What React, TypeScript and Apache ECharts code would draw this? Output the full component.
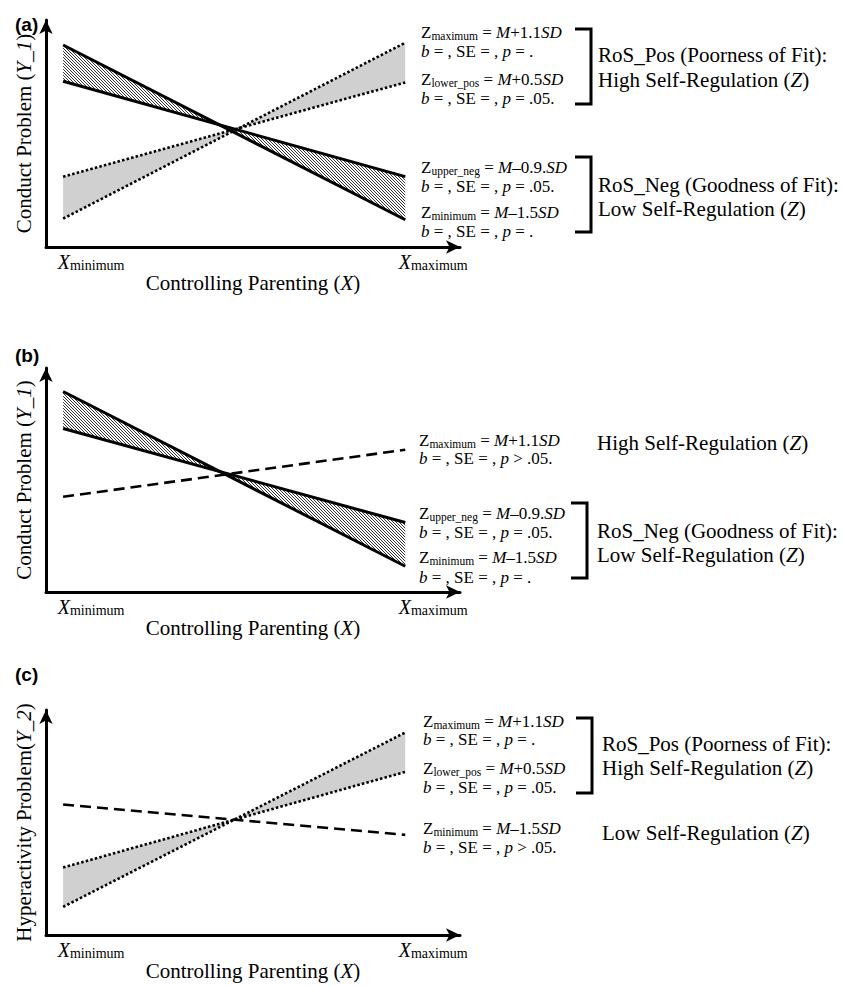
import React, { useEffect, useRef } from 'react';
import * as echarts from 'echarts';

// ---- data ----
const xEnds = [0, 1]; // X_minimum, X_maximum
const xTickSubs = ['minimum', 'maximum'];

// Panel (a): Conduct Problem
const aZMinimum = [8.9, 1.2];
const aZUpperNeg = [7.3, 3.1];
const aZMaximum = [1.25, 9.0];
const aZLowerPos = [3.1, 7.25];
// Panel (b): Conduct Problem
const bZMinimum = [8.95, 1.15];
const bZUpperNeg = [7.3, 3.1];
const bZMaximum = [4.25, 6.35];
// Panel (c): Hyperactivity Problem
const cZMaximum = [1.25, 9.0];
const cZLowerPos = [3.0, 7.25];
const cZMinimum = [5.8, 4.45];

const panelLabels = ['(a)', '(b)', '(c)'];
const yNames = ['Conduct Problem ({i|Y_1})', 'Conduct Problem ({i|Y_1})', 'Hyperactivity Problem({i|Y_2})'];
const xName = 'Controlling Parenting ({i|X})';

const SERIF = '"Liberation Serif", "Times New Roman", serif';

const hatchSvg =
  "<svg xmlns='http://www.w3.org/2000/svg' width='3' height='3'><path d='M-1 -1L4 4M-1 2L1 4M2 -1L4 1' stroke='#000' stroke-width='0.8'/></svg>";
const toUrl = (s: string) => 'data:image/svg+xml;charset=utf-8,' + encodeURIComponent(s);
const hatchFill: any = { image: toUrl(hatchSvg), repeat: 'repeat', imageWidth: 3, imageHeight: 3 };
const dotFill = '#d0d0d0';

const grids = [
  { left: 46, top: 20, width: 414, height: 227 },
  { left: 46, top: 368, width: 414, height: 224 },
  { left: 46, top: 710, width: 414, height: 225 },
];

const rich: any = {
  r: { fontSize: 17, fontFamily: SERIF, color: '#000', lineHeight: 19 },
  i: { fontSize: 17, fontFamily: SERIF, fontStyle: 'italic', color: '#000', lineHeight: 19 },
  sub: { fontSize: 11.5, fontFamily: SERIF, color: '#000', verticalAlign: 'bottom', lineHeight: 12 },
  big: { fontSize: 21, fontFamily: SERIF, color: '#000', lineHeight: 23 },
  bigi: { fontSize: 21, fontFamily: SERIF, fontStyle: 'italic', color: '#000', lineHeight: 23 },
};

function txt(x: number, y: number, text: string) {
  return {
    type: 'text',
    x,
    y,
    silent: true,
    style: { text, rich, fill: '#000', fontSize: 17, fontFamily: SERIF, verticalAlign: 'middle', align: 'left' },
  };
}
function bracket(x: number, y1: number, y2: number) {
  return {
    type: 'polyline',
    silent: true,
    shape: { points: [[x - 16, y1], [x, y1], [x, y2], [x - 16, y2]] },
    style: { stroke: '#000', lineWidth: 3, fill: 'none' },
  };
}
function panelLabel(y: number, t: string) {
  return {
    type: 'text',
    x: 15,
    y,
    silent: true,
    style: { text: t, fill: '#000', font: 'bold 19px "Liberation Sans", Arial, sans-serif', verticalAlign: 'middle' },
  };
}

const zMax = '{r|Z}{sub|maximum}{r| = }{i|M}{r|+1.1}{i|SD}';
const zLowerPos = '{r|Z}{sub|lower_pos}{r| = }{i|M}{r|+0.5}{i|SD}';
const zUpperNeg = '{r|Z}{sub|upper_neg}{r| = }{i|M}{r|–0.9.}{i|SD}';
const zMin = '{r|Z}{sub|minimum}{r| = }{i|M}{r|–1.5}{i|SD}';
const bDot = '{i|b}{r| = , SE = , }{i|p}{r| = .}';
const b05 = '{i|b}{r| = , SE = , }{i|p}{r| = .05.}';
const bGt = '{i|b}{r| = , SE = , }{i|p}{r| > .05.}';
const rosPos = '{big|RoS_Pos (Poorness of Fit):}';
const rosNeg = '{big|RoS_Neg (Goodness of Fit):}';
const highSR = '{big|High Self-Regulation (}{bigi|Z}{big|)}';
const lowSR = '{big|Low Self-Regulation (}{bigi|Z}{big|)}';

function lineSeries(gi: number, ys: number[], kind: string) {
  const st =
    kind === 'solid'
      ? { type: 'solid', width: 3 }
      : kind === 'dotted'
      ? { type: [2.5, 2.2], width: 2.6 }
      : { type: [11, 6], width: 2.6 };
  return {
    type: 'line',
    xAxisIndex: gi,
    yAxisIndex: gi,
    data: xEnds.map((x, i) => [x, ys[i]]),
    symbol: 'none',
    silent: true,
    z: 3,
    lineStyle: { color: '#000', cap: 'butt', ...st },
  };
}
function bandSeries(gi: number, up: number[], lo: number[], fill: any) {
  return {
    type: 'custom',
    xAxisIndex: gi,
    yAxisIndex: gi,
    silent: true,
    z: 2,
    data: xEnds.map((x, i) => [x, up[i], lo[i]]),
    renderItem: (params: any, api: any) => {
      if (params.dataIndex !== 0) return { type: 'group', children: [] };
      const pts = [
        api.coord([xEnds[0], up[0]]),
        api.coord([xEnds[1], up[1]]),
        api.coord([xEnds[1], lo[1]]),
        api.coord([xEnds[0], lo[0]]),
      ];
      return { type: 'polygon', shape: { points: pts }, style: { fill, stroke: null } };
    },
  };
}

export default function App() {
  const ref = useRef<HTMLDivElement>(null);
  useEffect(() => {
    document.body.style.margin = '0';
    const chart = echarts.init(ref.current!, null, { renderer: 'svg' });
    const xAxes = grids.map((_, gi) => ({
      type: 'value',
      gridIndex: gi,
      min: -0.05,
      max: 1.16,
      splitLine: { show: false },
      axisTick: { show: false },
      axisLine: {
        show: true,
        onZero: false,
        symbol: ['none', 'arrow'],
        symbolSize: [10, 14],
        lineStyle: { color: '#000', width: 3 },
      },
      axisLabel: {
        show: true,
        customValues: xEnds,
        margin: 4,
        align: 'center',
        padding: [0, 0, 0, 56],
        formatter: (v: number) => '{x|X}{s|' + xTickSubs[v < 0.5 ? 0 : 1] + '}',
        rich: {
          x: { fontSize: 20, fontFamily: SERIF, fontStyle: 'italic', color: '#000', lineHeight: 21 },
          s: { fontSize: 14, fontFamily: SERIF, color: '#000', verticalAlign: 'bottom', lineHeight: 15 },
        },
      },
      name: xName,
      nameLocation: 'middle',
      nameGap: 25,
      nameTextStyle: {
        fontSize: 21,
        fontFamily: SERIF,
        color: '#000',
        rich: { i: { fontSize: 21, fontFamily: SERIF, fontStyle: 'italic', color: '#000' } },
      },
    }));
    const yAxes = grids.map((_, gi) => ({
      type: 'value',
      gridIndex: gi,
      min: 0,
      max: 10,
      splitLine: { show: false },
      axisTick: { show: false },
      axisLabel: { show: false },
      axisLine: {
        show: true,
        onZero: false,
        symbol: ['none', 'arrow'],
        symbolSize: [10, 14],
        lineStyle: { color: '#000', width: 3 },
      },
      name: yNames[gi],
      nameLocation: 'middle',
      nameGap: 12,
      nameRotate: 90,
      nameTextStyle: {
        fontSize: 21,
        fontFamily: SERIF,
        color: '#000',
        rich: { i: { fontSize: 21, fontFamily: SERIF, fontStyle: 'italic', color: '#000' } },
      },
    }));

    const series: any[] = [
      bandSeries(0, aZMinimum, aZUpperNeg, hatchFill),
      bandSeries(0, aZMaximum, aZLowerPos, dotFill),
      lineSeries(0, aZMinimum, 'solid'),
      lineSeries(0, aZUpperNeg, 'solid'),
      lineSeries(0, aZMaximum, 'dotted'),
      lineSeries(0, aZLowerPos, 'dotted'),
      bandSeries(1, bZMinimum, bZUpperNeg, hatchFill),
      lineSeries(1, bZMinimum, 'solid'),
      lineSeries(1, bZUpperNeg, 'solid'),
      lineSeries(1, bZMaximum, 'dashed'),
      bandSeries(2, cZMaximum, cZLowerPos, dotFill),
      lineSeries(2, cZMaximum, 'dotted'),
      lineSeries(2, cZLowerPos, 'dotted'),
      lineSeries(2, cZMinimum, 'dashed'),
    ];

    const graphic: any[] = [
      panelLabel(24, panelLabels[0]),
      panelLabel(355, panelLabels[1]),
      panelLabel(674, panelLabels[2]),
      // (a)
      txt(421, 32, zMax),
      txt(421, 51, bDot),
      txt(421, 79, zLowerPos),
      txt(421, 98, b05),
      bracket(591, 29, 104),
      txt(598, 55, rosPos),
      txt(598, 80, highSR),
      txt(421, 167, zUpperNeg),
      txt(421, 186, b05),
      txt(421, 212, zMin),
      txt(421, 231, bDot),
      bracket(591, 157, 232),
      txt(598, 185, rosNeg),
      txt(598, 209, lowSR),
      // (b)
      txt(419, 440, zMax),
      txt(419, 458, bGt),
      txt(597, 443, highSR),
      txt(419, 513, zUpperNeg),
      txt(419, 532, b05),
      txt(419, 557, zMin),
      txt(419, 577, bDot),
      bracket(587, 503, 578),
      txt(597, 531, rosNeg),
      txt(597, 555, lowSR),
      // (c)
      txt(423, 721, zMax),
      txt(423, 739, bDot),
      txt(423, 768, zLowerPos),
      txt(423, 787, b05),
      bracket(592, 718, 793),
      txt(602, 744, rosPos),
      txt(602, 768, highSR),
      txt(423, 828, zMin),
      txt(423, 847, bGt),
      txt(602, 833, lowSR),
    ];

    chart.setOption({
      animation: false,
      backgroundColor: '#fff',
      grid: grids.map((g) => ({ ...g, containLabel: false })),
      xAxis: xAxes,
      yAxis: yAxes,
      series,
      graphic,
    });
    return () => chart.dispose();
  }, []);
  return <div ref={ref} style={{ width: 844, height: 986 }} />;
}
